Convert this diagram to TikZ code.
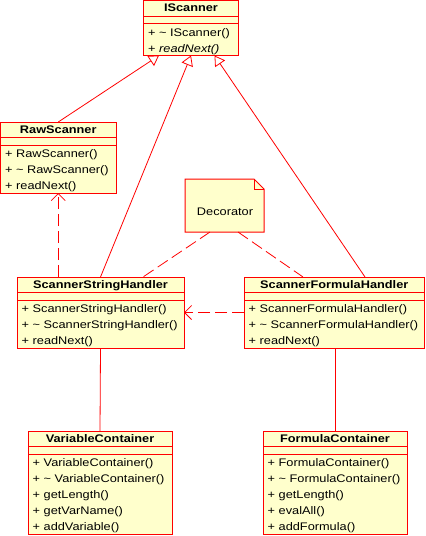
\documentclass[tikz,border=0pt]{standalone}
\usepackage{fontspec}
\setmainfont[FakeStretch=1.16]{Liberation Sans}
\usetikzlibrary{calc,arrows.meta}
\definecolor{umlfill}{RGB}{255,255,204}
\definecolor{umlred}{RGB}{255,0,0}

\tikzset{
 clsbox/.style={draw=umlred, fill=umlfill, line width=1pt, inner sep=0pt, outer sep=0pt, rectangle},
 sepline/.style={draw=umlred, line width=1pt},
 titletxt/.style={font=\fontsize{11}{13}\selectfont\bfseries, inner sep=0pt, anchor=base},
 methtxt/.style={font=\fontsize{11}{13}\selectfont, inner sep=0pt, anchor=base west},
 conn/.style={draw=umlred, line width=0.8pt},
 inherit/.style={conn, -{Triangle[open, length=10pt, width=12pt]}},
 depend/.style={conn, dash pattern=on 12pt off 5pt, -{Straight Barb[length=7pt, width=14pt]}},
 notelink/.style={conn, dash pattern=on 12pt off 5pt},
 assoc/.style={conn},
}

\newcommand\umlclass[7]{% name, x, y, w, nlines, title, methods
  \node[clsbox, minimum width=#4pt, minimum height={(23+16*#5)*1pt}, anchor=north west] (#1) at (#2,#3) {};
  \node[titletxt] (#1-title) at ($(#1.north)+(0,11)$) {#6};
  \draw[sepline] ($(#1.north west)+(0,15.5)$) -- ($(#1.north east)+(0,15.5)$);
  \draw[sepline] ($(#1.north west)+(0,23)$) -- ($(#1.north east)+(0,23)$);
  \foreach \m [count=\i from 0] in {#7} {
    \node[methtxt] (#1-m\i) at ($(#1.north west)+(4.5,{35.5+16*\i})$) {\m};
  }
}

\begin{document}
\begin{tikzpicture}[x=1pt,y=-1pt]
\useasboundingbox[fill=white] (0,0) rectangle (426,536);

\umlclass{iscanner}{143.5}{0.5}{95}{2}{IScanner}{+ \textasciitilde\ IScanner(), + \textit{readNext()}}
\umlclass{raw}{0.5}{122}{115.5}{3}{RawScanner}{+ RawScanner(), + \textasciitilde\ RawScanner(), + readNext()}
\umlclass{ssh}{17}{277}{167}{3}{ScannerStringHandler}{+ ScannerStringHandler(), + \textasciitilde\ ScannerStringHandler(), + readNext()}
\umlclass{sfh}{244}{277}{180.5}{3}{ScannerFormulaHandler}{+ ScannerFormulaHandler(), + \textasciitilde\ ScannerFormulaHandler(), + readNext()}
\umlclass{vc}{28}{431}{144}{5}{VariableContainer}{+ VariableContainer(), + \textasciitilde\ VariableContainer(), + getLength(), + getVarName(), + addVariable()}
\umlclass{fc}{263}{431}{144}{5}{FormulaContainer}{+ FormulaContainer(), + \textasciitilde\ FormulaContainer(), + getLength(), + evalAll(), + addFormula()}

% note
\draw[draw=umlred, fill=umlfill, line width=1pt] (185,179) -- (254,179) -- (264,189) -- (264,232) -- (185,232) -- cycle;
\draw[draw=umlred, line width=1pt] (254,179) -- (254,189) -- (264,189);
\node[draw=none, minimum width=79pt, minimum height=53pt, anchor=north west, inner sep=0pt, outer sep=0pt] (note) at (185,179) {};
\node[methtxt, anchor=base] (note-text) at (225,215) {Decorator};

% inheritance
\coordinate (t1) at ($(iscanner.south west)+(15.5,0)$);
\coordinate (t2) at (iscanner.south);
\coordinate (t3) at ($(iscanner.south west)+(71,0)$);
\draw[inherit] (raw.north) -- (t1);
\draw[inherit] (ssh.north) -- (t2);
\draw[inherit] ($(sfh.north west)+(121,0)$) -- (t3);

% dependencies
\draw[depend] (raw.south |- ssh.north) -- (raw.south);
\draw[depend] (sfh.west) -- (ssh.east);

% note links
\draw[notelink] ($(note.south west)+(25,0)$) -- ($(ssh.north west)+(126,0)$);
\draw[notelink] ($(note.south west)+(53,0)$) -- ($(sfh.north west)+(59,0)$);

% associations
\draw[assoc] (ssh.south) -- (vc.north);
\draw[assoc] (sfh.south -| fc.north) -- (fc.north);
\end{tikzpicture}
\end{document}
